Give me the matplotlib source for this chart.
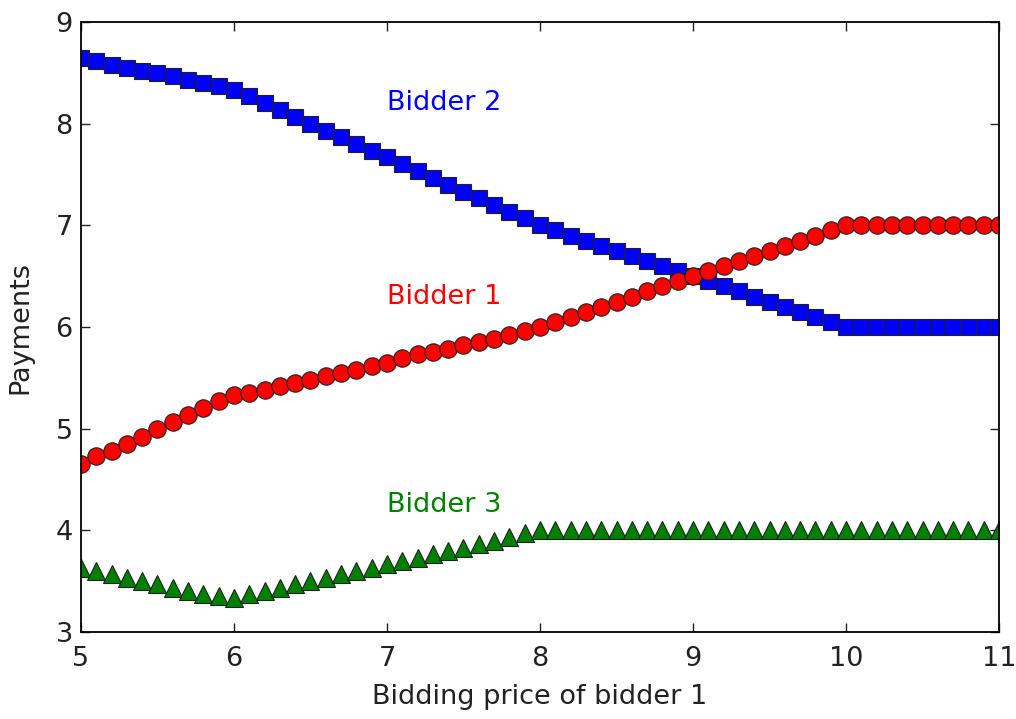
import numpy as np
import matplotlib
matplotlib.use('Agg')
import matplotlib.pyplot as plt

# Data
bid_price = np.round(np.arange(5.0, 11.01, 0.1), 1)

bidder1 = [4.65, 4.73, 4.78, 4.85, 4.92, 5.00, 5.07, 5.13, 5.20, 5.27,
           5.33, 5.35, 5.38, 5.42, 5.45, 5.48, 5.52, 5.55, 5.58, 5.62,
           5.65, 5.70, 5.73, 5.75, 5.78, 5.82, 5.85, 5.88, 5.92, 5.96,
           6.00, 6.05, 6.10, 6.15, 6.20, 6.25, 6.30, 6.35, 6.40, 6.45,
           6.50, 6.55, 6.60, 6.65, 6.70, 6.75, 6.80, 6.85, 6.90, 6.95,
           7.00, 7.00, 7.00, 7.00, 7.00, 7.00, 7.00, 7.00, 7.00, 7.00,
           7.00]
bidder2 = [8.65, 8.62, 8.58, 8.55, 8.52, 8.50, 8.47, 8.43, 8.40, 8.37,
           8.33, 8.27, 8.20, 8.13, 8.07, 8.00, 7.93, 7.87, 7.80, 7.73,
           7.67, 7.60, 7.53, 7.47, 7.40, 7.33, 7.27, 7.20, 7.13, 7.07,
           7.00, 6.95, 6.90, 6.85, 6.80, 6.75, 6.70, 6.65, 6.60, 6.55,
           6.50, 6.45, 6.40, 6.35, 6.30, 6.25, 6.20, 6.15, 6.10, 6.05,
           6.00, 6.00, 6.00, 6.00, 6.00, 6.00, 6.00, 6.00, 6.00, 6.00,
           6.00]
bidder3 = [3.63, 3.60, 3.57, 3.53, 3.50, 3.47, 3.43, 3.40, 3.37, 3.35,
           3.33, 3.37, 3.40, 3.43, 3.47, 3.50, 3.53, 3.57, 3.60, 3.63,
           3.67, 3.70, 3.73, 3.77, 3.80, 3.83, 3.87, 3.90, 3.93, 3.97,
           4.00, 4.00, 4.00, 4.00, 4.00, 4.00, 4.00, 4.00, 4.00, 4.00,
           4.00, 4.00, 4.00, 4.00, 4.00, 4.00, 4.00, 4.00, 4.00, 4.00,
           4.00, 4.00, 4.00, 4.00, 4.00, 4.00, 4.00, 4.00, 4.00, 4.00,
           4.00]

labels = ['Bidder 1', 'Bidder 2', 'Bidder 3']
label_pos = [(7.0, 6.3), (7.0, 8.2), (7.0, 4.25)]
colors = ['red', 'blue', 'green']

fig = plt.figure(figsize=(10.16, 7.19), dpi=100)
ax = fig.add_axes([0.0797, 0.121, 0.9036, 0.8484])

ax.plot(bid_price, bidder2, 's', color='blue', markersize=12,
        markeredgecolor='#202020', markeredgewidth=0.8)
ax.plot(bid_price, bidder1, 'o', color='red', markersize=12.5,
        markeredgecolor='#202020', markeredgewidth=0.8)
ax.plot(bid_price, bidder3, '^', color='green', markersize=12.5,
        markeredgecolor='#202020', markeredgewidth=0.8)

for lab, (tx, ty), c in zip(labels, label_pos, colors):
    ax.text(tx, ty, lab, color=c, fontsize=19.5, ha='left', va='center')

ax.set_xlim(5, 11)
ax.set_ylim(3, 9)
ax.set_xticks(range(5, 12))
ax.set_yticks(range(3, 10))
ax.tick_params(direction='in', top=True, right=True, length=6.5, width=1,
               labelsize=19.5, colors='#222222')
ax.tick_params(axis='x', pad=10)
ax.tick_params(axis='y', pad=6)
for s in ax.spines.values():
    s.set_linewidth(1.3)

ax.set_xlabel('Bidding price of bidder 1', fontsize=19.5, labelpad=9, color='#222222')
ax.set_ylabel('Payments', fontsize=19.5, labelpad=16, color='#222222')

plt.savefig('out.png', dpi=100)
